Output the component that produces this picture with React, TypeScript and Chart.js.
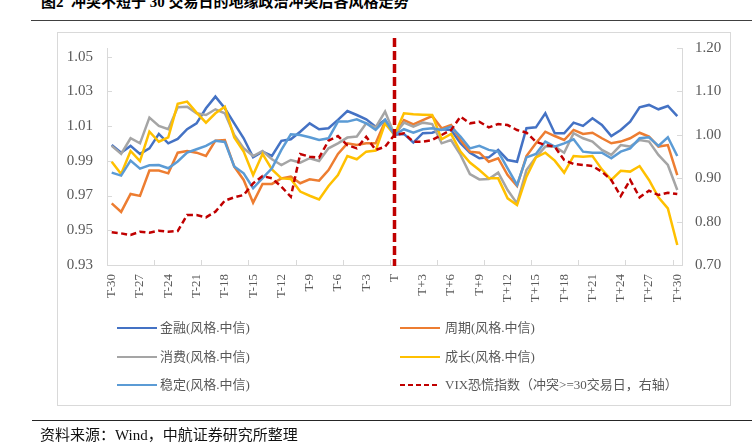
import React, { useEffect, useRef } from 'react';
import { Chart, registerables } from 'chart.js';

Chart.register(...registerables);

// ---------- data ----------
const categories = [
  'T-30', 'T-29', 'T-28', 'T-27', 'T-26', 'T-25', 'T-24', 'T-23', 'T-22', 'T-21',
  'T-20', 'T-19', 'T-18', 'T-17', 'T-16', 'T-15', 'T-14', 'T-13', 'T-12', 'T-11',
  'T-10', 'T-9', 'T-8', 'T-7', 'T-6', 'T-5', 'T-4', 'T-3', 'T-2', 'T-1',
  'T',
  'T+1', 'T+2', 'T+3', 'T+4', 'T+5', 'T+6', 'T+7', 'T+8', 'T+9', 'T+10',
  'T+11', 'T+12', 'T+13', 'T+14', 'T+15', 'T+16', 'T+17', 'T+18', 'T+19', 'T+20',
  'T+21', 'T+22', 'T+23', 'T+24', 'T+25', 'T+26', 'T+27', 'T+28', 'T+29', 'T+30',
];

const finance = [
  0.9991, 0.9947, 0.9986, 0.9940, 0.9972, 1.0055, 1.0001, 1.0026, 1.0082, 1.0116,
  1.0203, 1.0270, 1.0203, 1.0116, 1.0030, 0.9921, 0.9953, 0.9928, 1.0015, 1.0024,
  1.0068, 1.0116, 1.0082, 1.0088, 1.0136, 1.0187, 1.0164, 1.0139, 1.0097, 1.0136,
  1.0050,
  1.0055, 1.0005, 1.0059, 1.0062, 1.0082, 1.0078, 1.0001, 0.9947, 0.9915, 0.9920,
  0.9963, 0.9905, 0.9895, 1.0088, 1.0093, 1.0174, 1.0059, 1.0059, 1.0120, 1.0101,
  1.0145, 1.0107, 1.0043, 1.0078, 1.0126, 1.0208, 1.0222, 1.0197, 1.0216, 1.0158,
];

const cyclical = [
  0.9655, 0.9606, 0.9709, 0.9698, 0.9844, 0.9844, 0.9828, 0.9947, 0.9957, 0.9947,
  0.9928, 1.0016, 1.0020, 0.9867, 0.9790, 0.9659, 0.9767, 0.9767, 0.9799, 0.9809,
  0.9771, 0.9794, 0.9786, 0.9847, 0.9940, 1.0001, 0.9991, 1.0001, 1.0001, 1.0126,
  1.0050,
  1.0135, 1.0110, 1.0135, 1.0158, 1.0087, 1.0107, 1.0020, 0.9953, 0.9947, 0.9895,
  0.9915, 0.9818, 0.9755, 0.9928, 1.0001, 1.0068, 1.0043, 1.0020, 1.0078, 1.0055,
  1.0062, 1.0030, 1.0001, 1.0011, 1.0030, 1.0062, 1.0040, 0.9982, 0.9991, 0.9818,
];

const consumer = [
  0.9986, 0.9940, 1.0030, 1.0001, 1.0149, 1.0101, 1.0082, 1.0209, 1.0212, 1.0174,
  1.0164, 1.0197, 1.0174, 1.0049, 0.9972, 0.9928, 0.9957, 0.9909, 0.9876, 0.9905,
  0.9890, 0.9915, 0.9899, 0.9972, 1.0001, 1.0034, 1.0040, 1.0116, 1.0093, 1.0184,
  1.0050,
  1.0120, 1.0097, 1.0120, 1.0112, 1.0001, 1.0020, 0.9934, 0.9824, 0.9793, 0.9795,
  0.9832, 0.9732, 0.9655, 0.9847, 0.9920, 0.9982, 0.9982, 0.9947, 1.0059, 1.0030,
  1.0011, 0.9963, 0.9934, 0.9991, 0.9982, 1.0020, 1.0011, 0.9934, 0.9876, 0.9732,
];

const growth = [
  0.9895, 0.9824, 0.9957, 0.9899, 1.0068, 1.0010, 1.0035, 1.0228, 1.0241, 1.0178,
  1.0120, 1.0174, 1.0212, 1.0035, 0.9953, 0.9818, 0.9940, 0.9851, 0.9799, 0.9795,
  0.9723, 0.9699, 0.9678, 0.9755, 0.9818, 0.9928, 0.9909, 0.9953, 0.9959, 1.0116,
  1.0050,
  1.0174, 1.0168, 1.0166, 1.0164, 1.0024, 1.0055, 0.9953, 0.9890, 0.9847, 0.9799,
  0.9799, 0.9684, 0.9646, 0.9809, 0.9920, 0.9947, 0.9901, 0.9832, 0.9928, 0.9924,
  0.9928, 0.9851, 0.9790, 0.9843, 0.9838, 0.9870, 0.9790, 0.9690, 0.9626, 0.9415,
];

const stable = [
  0.9832, 0.9815, 0.9901, 0.9855, 0.9874, 0.9876, 0.9857, 0.9896, 0.9947, 0.9967,
  0.9986, 1.0016, 1.0009, 0.9867, 0.9828, 0.9742, 0.9800, 0.9857, 0.9963, 1.0053,
  1.0049, 1.0036, 1.0020, 1.0030, 1.0126, 1.0126, 1.0139, 1.0116, 1.0078, 1.0136,
  1.0050,
  1.0082, 1.0062, 1.0082, 1.0088, 1.0078, 1.0097, 1.0040, 0.9972, 0.9986, 0.9963,
  0.9953, 0.9857, 0.9761, 0.9920, 0.9940, 1.0011, 0.9982, 1.0001, 1.0024, 0.9953,
  0.9947, 0.9947, 0.9915, 0.9953, 0.9972, 1.0030, 1.0036, 0.9986, 1.0036, 0.9928,
];

const vix = [
  0.7752, 0.7729, 0.7691, 0.7768, 0.7745, 0.7791, 0.7768, 0.7783, 0.8152, 0.8152,
  0.8098, 0.8229, 0.8482, 0.8559, 0.8612, 0.8881, 0.9050, 0.8996, 0.8804, 0.8574,
  0.9557, 0.9496, 0.9473, 0.9864, 0.9972, 0.9764, 0.9688, 0.9956, 0.9649, 0.9726,
  0.9995,
  1.0033, 0.9841, 0.9841, 0.9880, 0.9995, 1.0110, 1.0417, 1.0264, 1.0302, 1.0171,
  1.0248, 1.0225, 1.0110, 1.0049, 0.9841, 0.9764, 0.9726, 0.9419, 0.9327, 0.9304,
  0.9281, 0.9150, 0.8958, 0.8589, 0.8958, 0.8559, 0.8712, 0.8612, 0.8666, 0.8635,
];

const leftTicks = [0.93, 0.95, 0.97, 0.99, 1.01, 1.03, 1.05];
const rightTicks = [0.7, 0.8, 0.9, 1.0, 1.1, 1.2];
const eventLabel = 'T';

const seriesNames = [
  '金融(风格.中信)',
  '周期(风格.中信)',
  '消费(风格.中信)',
  '成长(风格.中信)',
  '稳定(风格.中信)',
  'VIX恐慌指数（冲突>=30交易日，右轴）',
];
const seriesData = [finance, cyclical, consumer, growth, stable, vix];
const seriesAxis = ['y', 'y', 'y', 'y', 'y', 'y1'];
const colors = ['#4472c4', '#ed7d31', '#a5a5a5', '#ffc000', '#5b9bd5', '#c00000'];

const titleText = '图2  冲突不短于 30 交易日的地缘政治冲突后各风格走势';
const sourceText = '资料来源：Wind，中航证券研究所整理';

const FONT = '"Liberation Serif", "Noto Sans CJK SC", serif';
const AXIS_GRAY = '#d9d9d9';
const TEXT_GRAY = '#595959';

const marksPlugin = {
  id: 'marks',
  beforeDatasetsDraw(chart: any) {
    const { ctx, chartArea, scales } = chart;
    const x = scales.x;
    const y = scales.y;
    const y1 = scales.y1;
    ctx.save();
    ctx.strokeStyle = AXIS_GRAY;
    ctx.lineWidth = 1;
    ctx.beginPath();
    const half = (x.getPixelForValue(1) - x.getPixelForValue(0)) / 2;
    for (let i = 0; i < categories.length; i += 5) {
      const px = Math.round(x.getPixelForValue(i) - half) + 0.5;
      ctx.moveTo(px, chartArea.bottom);
      ctx.lineTo(px, chartArea.bottom - 5);
    }
    leftTicks.forEach((v) => {
      const py = Math.round(y.getPixelForValue(v)) + 0.5;
      ctx.moveTo(chartArea.left, py);
      ctx.lineTo(chartArea.left + 5, py);
    });
    rightTicks.forEach((v) => {
      const py = Math.round(y1.getPixelForValue(v)) + 0.5;
      ctx.moveTo(chartArea.right, py);
      ctx.lineTo(chartArea.right - 5, py);
    });
    ctx.stroke();
    ctx.restore();
  },
  afterDatasetsDraw(chart: any) {
    const { ctx, chartArea, scales } = chart;
    const px = scales.x.getPixelForValue(categories.indexOf(eventLabel));
    ctx.save();
    ctx.strokeStyle = '#c00000';
    ctx.lineWidth = 3.5;
    ctx.setLineDash([9, 4]);
    ctx.beginPath();
    ctx.moveTo(px, chartArea.top - 10);
    ctx.lineTo(px, chartArea.bottom + 1);
    ctx.stroke();
    ctx.restore();
  },
};

function ChartCanvas() {
  const ref = useRef<HTMLCanvasElement | null>(null);
  useEffect(() => {
    if (!ref.current) return;
    Chart.defaults.font.family = FONT;
    const chart = new Chart(ref.current, {
      type: 'line',
      data: {
        labels: categories,
        datasets: seriesData.map((d, i) => ({
          label: seriesNames[i],
          data: d,
          yAxisID: seriesAxis[i],
          borderColor: colors[i],
          backgroundColor: colors[i],
          borderWidth: 2.5,
          borderDash: i === 5 ? [6, 3.5] : [],
          pointRadius: 0,
          tension: 0,
          fill: false,
          order: 5 - i,
        })),
      },
      options: {
        animation: false,
        responsive: false,
        maintainAspectRatio: false,
        events: [],
        layout: { padding: { left: 57, right: 0, top: 48, bottom: 123 } },
        plugins: { legend: { display: false }, tooltip: { enabled: false }, title: { display: false } },
        scales: {
          x: {
            type: 'category',
            offset: true,
            grid: { display: true, drawOnChartArea: false, drawTicks: false },
            border: { display: true, color: AXIS_GRAY, width: 1 },
            ticks: {
              autoSkip: false,
              minRotation: 90,
              maxRotation: 90,
              padding: 9,
              color: TEXT_GRAY,
              font: { size: 13, family: FONT },
              callback: (_v: any, i: number) => (i % 3 === 0 ? categories[i] : ''),
            },
            afterFit: (s: any) => { s.height = 60; },
          },
          y: {
            type: 'linear',
            position: 'left',
            min: 0.93,
            max: 1.055,
            grid: { display: true, drawOnChartArea: false, drawTicks: false },
            border: { display: true, color: AXIS_GRAY, width: 1 },
            afterBuildTicks: (s: any) => { s.ticks = leftTicks.map((v) => ({ value: v })); },
            ticks: {
              padding: 14,
              color: TEXT_GRAY,
              font: { size: 15, family: FONT },
              callback: (v: any) => Number(v).toFixed(2),
            },
            afterFit: (s: any) => { s.width = 50; },
          },
          y1: {
            type: 'linear',
            position: 'right',
            min: 0.7,
            max: 1.2,
            grid: { display: true, drawOnChartArea: false, drawTicks: false },
            border: { display: true, color: AXIS_GRAY, width: 1 },
            afterBuildTicks: (s: any) => { s.ticks = rightTicks.map((v) => ({ value: v })); },
            ticks: {
              padding: 13,
              color: TEXT_GRAY,
              font: { size: 15, family: FONT },
              callback: (v: any) => Number(v).toFixed(2),
            },
            afterFit: (s: any) => { s.width = 70; },
          },
        },
      } as any,
      plugins: [marksPlugin],
    });
    return () => chart.destroy();
  }, []);
  return (
    <canvas
      ref={ref}
      width={752}
      height={448}
      style={{ position: 'absolute', left: 0, top: 0, width: 752, height: 448 }}
    />
  );
}

const legendPos = [
  { lx: 117, tx: 160, cy: 328 },
  { lx: 400, tx: 445, cy: 328 },
  { lx: 117, tx: 160, cy: 357 },
  { lx: 400, tx: 445, cy: 357 },
  { lx: 117, tx: 160, cy: 385 },
  { lx: 400, tx: 445, cy: 385 },
];

export default function App() {
  return (
    <div
      style={{
        position: 'absolute',
        left: 0,
        top: 0,
        width: 752,
        height: 448,
        overflow: 'hidden',
        background: '#ffffff',
        fontFamily: FONT,
      }}
    >
      <div
        style={{
          position: 'absolute',
          left: 41,
          top: -6,
          height: 16,
          lineHeight: '16px',
          fontSize: 15,
          fontWeight: 'bold',
          color: '#000',
          whiteSpace: 'pre',
        }}
      >
        {titleText}
      </div>
      <div style={{ position: 'absolute', left: 31, top: 20, width: 721, height: 0, borderTop: '1.5px solid #404040' }} />
      <div
        style={{
          position: 'absolute',
          left: 57,
          top: 32,
          width: 674,
          height: 374,
          boxSizing: 'border-box',
          border: '1px solid #d9d9d9',
        }}
      />
      <ChartCanvas />
      {seriesNames.map((name, i) => {
        const p = legendPos[i];
        const dashed = i === 5;
        return (
          <React.Fragment key={name}>
            <div
              style={{
                position: 'absolute',
                left: p.lx,
                top: p.cy - 1.25,
                width: 40,
                height: 2.5,
                background: dashed
                  ? `repeating-linear-gradient(to right, ${colors[i]} 0px, ${colors[i]} 5.5px, transparent 5.5px, transparent 8px)`
                  : colors[i],
              }}
            />
            <div
              style={{
                position: 'absolute',
                left: p.tx,
                top: p.cy - 9,
                height: 18,
                lineHeight: '18px',
                fontSize: 13,
                color: TEXT_GRAY,
                whiteSpace: 'pre',
              }}
            >
              {name}
            </div>
          </React.Fragment>
        );
      })}
      <div style={{ position: 'absolute', left: 32, top: 420, width: 720, height: 0, borderTop: '1.5px solid #262626' }} />
      <div
        style={{
          position: 'absolute',
          left: 40,
          top: 426,
          height: 18,
          lineHeight: '18px',
          fontSize: 15,
          color: '#111',
          whiteSpace: 'pre',
        }}
      >
        {sourceText}
      </div>
    </div>
  );
}
